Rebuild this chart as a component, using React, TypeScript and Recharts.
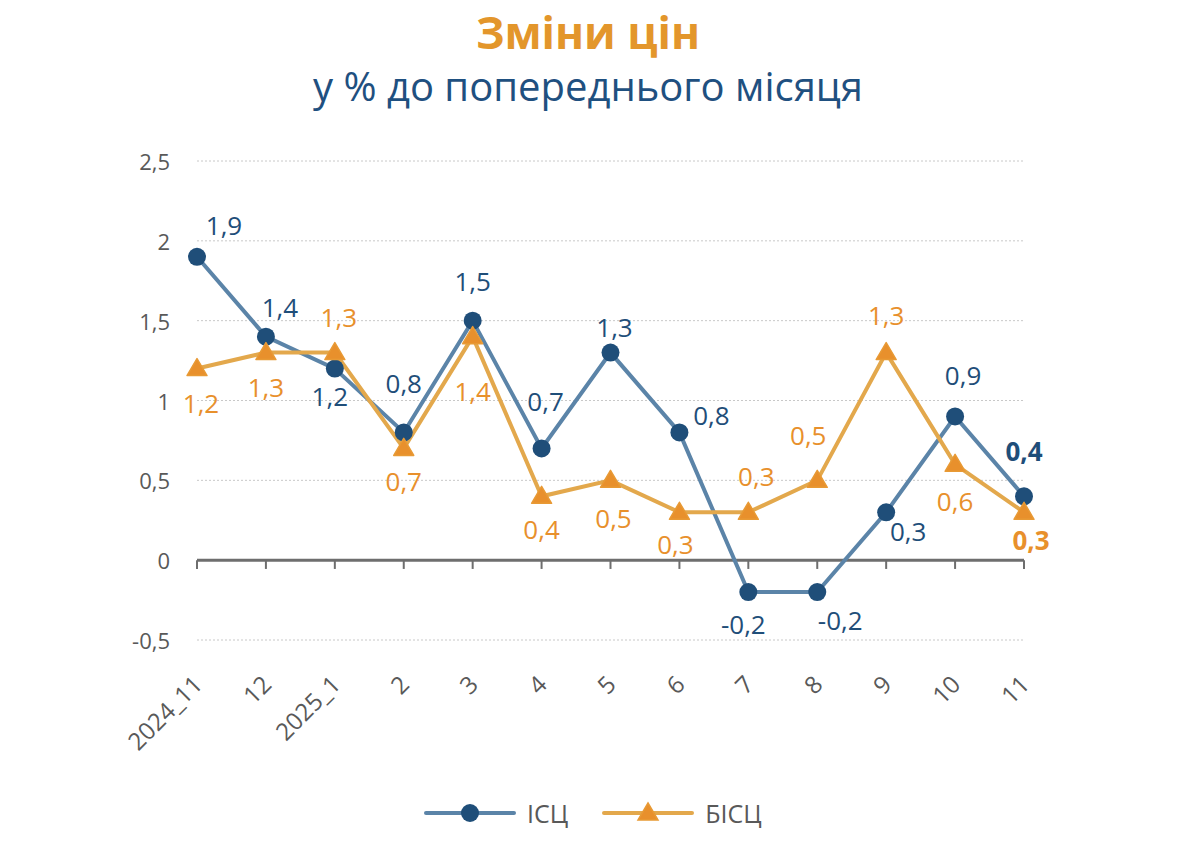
import React from 'react'
import { LineChart, Line, XAxis, YAxis, CartesianGrid, ReferenceLine, LabelList } from 'recharts'

const months = ['2024_11', '12', '2025_1', '2', '3', '4', '5', '6', '7', '8', '9', '10', '11']
const iscValues = [1.9, 1.4, 1.2, 0.8, 1.5, 0.7, 1.3, 0.8, -0.2, -0.2, 0.3, 0.9, 0.4]
const biscValues = [1.2, 1.3, 1.3, 0.7, 1.4, 0.4, 0.5, 0.3, 0.3, 0.5, 1.3, 0.6, 0.3]
const yTicks = [-0.5, 0, 0.5, 1, 1.5, 2, 2.5]

// label offsets from the point, in px
const iscLabelOffsets = [
  [27, -32], [14, -30], [-5, 27], [0, -49], [0, -40], [4, -47], [4, -26],
  [32, -17], [-5, 32], [23, 28], [22, 19], [8, -41], [0, -45],
]
const biscLabelOffsets = [
  [4, 34], [0, 34], [4, -36], [0, 33], [0, 54], [0, 33], [3, 38],
  [-4, 32], [8, -36], [-9, -45], [0, -38], [0, 37], [7, 28],
]

const data = months.map((m, i) => ({ month: m, isc: iscValues[i], bisc: biscValues[i] }))

const FONT = "'Open Sans', 'Noto Sans', sans-serif"
const GRAY = '#595959'
const BLUE_DOT = '#1f4e79'
const BLUE_LINE = '#5b84a8'
const ORANGE_DOT = '#e8902c'
const ORANGE_LINE = '#e3a84c'

const fmt = (v: number) => String(v).replace('.', ',')

const CircleDot = (props: any) => {
  const { cx, cy, index } = props
  if (cx == null || cy == null) return null
  return <circle key={`c-${index}`} cx={cx} cy={cy} r={9} fill={BLUE_DOT} />
}

const TriangleDot = (props: any) => {
  const { cx, cy, index } = props
  if (cx == null || cy == null) return null
  return (
    <path
      key={`t-${index}`}
      d={`M${cx},${cy - 10} L${cx + 10},${cy + 7} L${cx - 10},${cy + 7} Z`}
      fill={ORANGE_DOT}
      stroke="#e89a35"
      strokeWidth={1.5}
      strokeLinejoin="round"
    />
  )
}

const makeLabel = (offsets: number[][], color: string) => (props: any) => {
  const { x, y, value, index } = props
  if (x == null || y == null) return null
  const [dx, dy] = offsets[index] || [0, -30]
  const last = index === months.length - 1
  return (
    <text
      key={`l-${index}`}
      x={x + dx}
      y={y + dy}
      textAnchor="middle"
      dominantBaseline="central"
      fill={color}
      fontSize={26}
      fontWeight={last ? 700 : 400}
      fontFamily={FONT}
    >
      {fmt(value)}
    </text>
  )
}

const MonthTick = (props: any) => {
  const { x, y, payload } = props
  return (
    <text
      x={x + 7}
      y={y}
      textAnchor="end"
      fill={GRAY}
      fontSize={24}
      fontFamily={FONT}
      transform={`rotate(-45, ${x + 7}, ${y})`}
    >
      {payload.value}
    </text>
  )
}

const ValueTick = (props: any) => {
  const { x, y, payload } = props
  return (
    <text x={x} y={y} textAnchor="end" dominantBaseline="central" fill={GRAY} fontSize={22} fontFamily={FONT}>
      {fmt(payload.value)}
    </text>
  )
}

const LegendItem = ({ label, color, lineColor, triangle }: any) => (
  <div style={{ display: 'flex', alignItems: 'center', gap: 10 }}>
    <svg width={94} height={24}>
      <line x1={3} y1={12} x2={91} y2={12} stroke={lineColor} strokeWidth={4} strokeLinecap="round" />
      {triangle ? (
        <path d="M47,2 L57,19 L37,19 Z" fill={color} stroke="#e89a35" strokeWidth={1.5} />
      ) : (
        <circle cx={47} cy={12} r={9} fill={color} />
      )}
    </svg>
    <span style={{ fontSize: 25, color: GRAY, fontFamily: FONT, lineHeight: '30px' }}>{label}</span>
  </div>
)

export default function App() {
  return (
    <div style={{ position: 'relative', width: 1184, height: 825, fontFamily: FONT }}>
      <div style={{ position: 'absolute', left: 0, top: 0 }}>
        <LineChart width={1184} height={770} data={data} margin={{ top: 153, right: 168, left: 0, bottom: 8 }}>
          <CartesianGrid vertical={false} stroke="#c8c8c8" strokeDasharray="2 2" />
          <XAxis
            dataKey="month"
            axisLine={false}
            tickLine={false}
            height={130}
            tick={<MonthTick />}
            tickMargin={40}
            interval={0}
          />
          <YAxis
            domain={[-0.5, 2.5]}
            ticks={yTicks}
            axisLine={false}
            tickLine={false}
            width={189}
            tickMargin={21}
            tick={<ValueTick />}
          />
          <ReferenceLine y={0} stroke="#6e6e6e" strokeWidth={3} />
          {months.map((m) => (
            <ReferenceLine
              key={`tick-${m}`}
              segment={[{ x: m, y: 0 }, { x: m, y: -0.055 }]}
              stroke="#6e6e6e"
              strokeWidth={2}
            />
          ))}
          <Line
            dataKey="isc"
            stroke={BLUE_LINE}
            strokeWidth={4}
            dot={CircleDot}
            activeDot={false}
            isAnimationActive={false}
          >
            <LabelList dataKey="isc" content={makeLabel(iscLabelOffsets, BLUE_DOT)} />
          </Line>
          <Line
            dataKey="bisc"
            stroke={ORANGE_LINE}
            strokeWidth={4}
            dot={TriangleDot}
            activeDot={false}
            isAnimationActive={false}
          >
            <LabelList dataKey="bisc" content={makeLabel(biscLabelOffsets, ORANGE_DOT)} />
          </Line>
        </LineChart>
      </div>
      <div
        style={{
          position: 'absolute',
          left: 0,
          top: 0,
          width: 1160,
          textAlign: 'center',
          fontFamily: FONT,
        }}
      >
        <div style={{ color: '#e3962b', fontSize: 44, fontWeight: 700, lineHeight: '56px', marginTop: -4 }}>
          Зміни цін
        </div>
        <div style={{ color: '#1f5080', fontSize: 40, lineHeight: '52px', marginTop: 0 }}>
          у % до попереднього місяця
        </div>
      </div>
      <div
        style={{
          position: 'absolute',
          top: 790,
          left: 415,
          display: 'flex',
          gap: 33,
        }}
      >
        <LegendItem label="ІСЦ" color={BLUE_DOT} lineColor={BLUE_LINE} />
        <LegendItem label="БІСЦ" color={ORANGE_DOT} lineColor={ORANGE_LINE} triangle />
      </div>
    </div>
  )
}
